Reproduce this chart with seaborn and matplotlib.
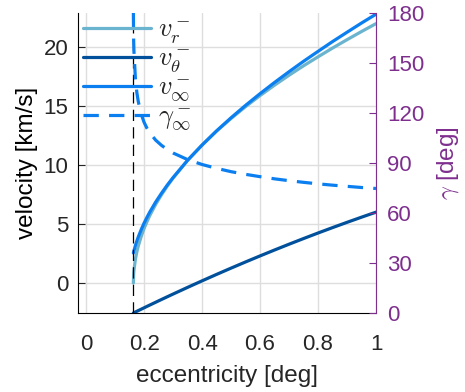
import matplotlib
matplotlib.use("Agg")
import matplotlib.pyplot as plt
import seaborn as sns
import pandas as pd

# ---- data ----
ecc = [0.163, 0.164, 0.165, 0.17, 0.175, 0.18, 0.19, 0.2, 0.21, 0.22, 0.24, 0.26, 0.28,
       0.3, 0.35, 0.4, 0.45, 0.5, 0.55, 0.6, 0.65, 0.7, 0.75, 0.8, 0.85, 0.9, 0.95, 1.0]
v_r = [0.0, 0.76, 1.07, 2.01, 2.63, 3.13, 3.94, 4.62, 5.20, 5.73, 6.66, 7.47, 8.21,
       8.88, 10.38, 11.68, 12.86, 13.93, 14.93, 15.87, 16.75, 17.59, 18.39, 19.15,
       19.89, 20.60, 21.29, 21.96]
v_theta = [-2.54, -2.528, -2.516, -2.456, -2.396, -2.337, -2.218, -2.099, -1.98, -1.863,
           -1.629, -1.396, -1.165, -0.936, -0.371, 0.183, 0.727, 1.26, 1.782, 2.293,
           2.794, 3.284, 3.763, 4.232, 4.689, 5.136, 5.572, 5.998]
v_inf = [2.54, 2.64, 2.734, 3.174, 3.558, 3.906, 4.521, 5.074, 5.564, 6.025, 6.857,
         7.599, 8.292, 8.929, 10.39, 11.68, 12.88, 13.99, 15.04, 16.03, 16.98, 17.89,
         18.77, 19.61, 20.44, 21.23, 22.01, 22.76]
gamma_inf = [180, 163.3, 157.0, 140.7, 132.3, 126.8, 119.4, 114.4, 110.8, 108.0, 103.7,
             100.6, 98.1, 96.0, 92.05, 89.1, 86.8, 84.8, 83.2, 81.8, 80.5, 79.4, 78.4,
             77.5, 76.7, 76.0, 75.3, 74.7]
e_crit = 0.163

x_ticks = [0, 0.2, 0.4, 0.6, 0.8, 1]
x_ticklabels = ["0", "0.2", "0.4", "0.6", "0.8", "1"]
v_ticks = [0, 5, 10, 15, 20]
g_ticks = [0, 30, 60, 90, 120, 150, 180]

labels = [r"$v_r^-$", r"$v_\theta^-$", r"$v_\infty^-$", r"$\gamma_\infty^-$"]
col_r = "#6AB4CF"
col_t = "#00509B"
col_inf = "#0B7FF0"
purple = "#7E2F8E"

sns.set_style("white")
plt.rcParams["font.family"] = ["Liberation Sans", "DejaVu Sans"]
plt.rcParams["mathtext.fontset"] = "cm"

df = pd.DataFrame({"e": ecc, "vr": v_r, "vt": v_theta, "vi": v_inf, "g": gamma_inf})

fig = plt.figure(figsize=(4.65, 3.92), dpi=100)
ax = fig.add_axes([78 / 465, 1 - 313 / 392, (376 - 78) / 465, 300 / 392])
ax2 = ax.twinx()

lw = 2.3
sns.lineplot(data=df, x="e", y="vr", ax=ax, color=col_r, lw=lw, label=labels[0], legend=False)
sns.lineplot(data=df, x="e", y="vt", ax=ax, color=col_t, lw=lw, label=labels[1], legend=False)
sns.lineplot(data=df, x="e", y="vi", ax=ax, color=col_inf, lw=lw, label=labels[2], legend=False)
ax.axvline(e_crit, color="black", lw=0.9, dashes=(9, 5))
sns.lineplot(data=df, x="e", y="g", ax=ax2, color=col_inf, lw=lw, label=labels[3], legend=False)
ax2.lines[-1].set_dashes((4.8, 3.2))

ax.set_xlim(-0.028, 1)
ax.set_ylim(min(v_theta), max(v_inf) + 0.1)
ax2.set_ylim(0, 180)

ax.set_xticks(x_ticks)
ax.set_xticklabels(x_ticklabels)
ax.set_yticks(v_ticks)
ax2.set_yticks(g_ticks)

ax.grid(True, color="#DEDEDE", lw=1)
ax.set_axisbelow(True)

for a in (ax, ax2):
    a.spines["top"].set_visible(False)
ax.spines["right"].set_visible(False)
ax.spines["left"].set_color("black")
ax.spines["bottom"].set_color("black")
ax2.spines["right"].set_color(purple)
ax2.spines["left"].set_visible(False)
ax2.spines["bottom"].set_visible(False)

ax.tick_params(axis="both", direction="in", length=5, labelsize=16, colors="#262626", pad=7)
ax.tick_params(axis="x", pad=15)
ax2.tick_params(axis="y", direction="in", length=5, labelsize=16, colors=purple, pad=8)

ax.set_xlabel("eccentricity [deg]", fontsize=17.5, color="#262626", labelpad=7)
ax.set_ylabel("velocity [km/s]", fontsize=17.5, color="black", labelpad=4)
ax2.set_ylabel(r"$\gamma$ [deg]", fontsize=17.5, color=purple, labelpad=8)

handles = ax.get_lines()[:3] + [ax2.get_lines()[-1]]
leg = ax2.legend(handles=handles, labels=labels, loc="upper left", frameon=False,
                 fontsize=19, handlelength=2.55, handletextpad=0.3, labelspacing=0.05,
                 borderpad=0.2, borderaxespad=0.0, bbox_to_anchor=(0.0, 1.0))

fig.savefig("out.png", dpi=100)
